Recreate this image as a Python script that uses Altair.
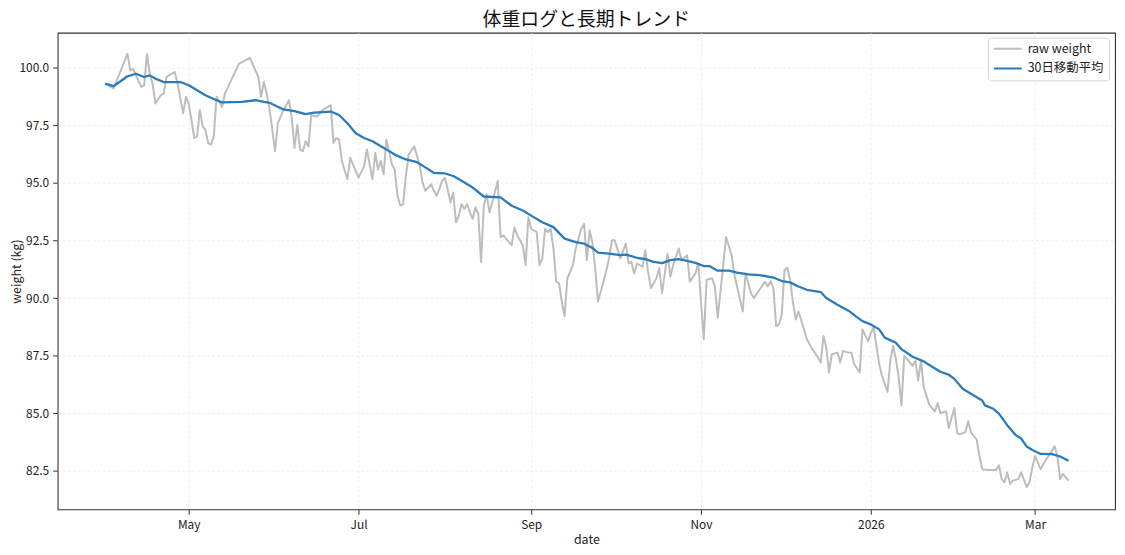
import altair as alt
import pandas as pd

START = "2025-04-01"

raw_day = [0, 3, 8, 9, 10, 11, 13, 14, 15, 16, 17, 18, 20, 21, 22, 25, 26, 28, 29, 30,
           32, 33, 34, 35, 36, 37, 38, 39, 40, 42, 43, 48, 52, 55, 56, 57, 58, 59, 61, 62,
           63, 64, 66, 67, 68, 69, 70, 71, 72, 73, 74, 76, 78, 81, 82, 83, 84, 85, 87, 88,
           90, 91, 93, 94, 96, 97, 98, 99, 100, 101, 103, 104, 105, 106, 107, 108, 109, 111, 113, 114,
           115, 117, 119, 120, 121, 122, 123, 124, 125, 126, 127, 128, 129, 130, 131, 132, 133, 134, 135, 136,
           137, 138, 139, 141, 142, 143, 144, 146, 147, 148, 150, 151, 152, 153, 155, 156, 157, 158, 159, 160,
           161, 162, 163, 164, 165, 166, 168, 169, 171, 172, 173, 174, 175, 176, 177, 179, 181, 182, 183, 185,
           187, 188, 189, 190, 191, 193, 194, 195, 196, 198, 199, 200, 202, 203, 204, 206, 207, 209, 210, 212,
           213, 215, 216, 218, 219, 220, 222, 223, 225, 226, 229, 230, 232, 233, 235, 237, 238, 239, 240, 241,
           242, 243, 244, 245, 246, 247, 248, 249, 251, 252, 254, 256, 257, 258, 259, 260, 261, 263, 264, 265,
           267, 268, 269, 271, 272, 274, 275, 276, 278, 279, 281, 282, 283, 284, 285, 286, 287, 288, 290, 291,
           292, 293, 294, 296, 297, 298, 299, 300, 302, 303, 305, 306, 307, 309, 310, 311, 313, 314, 315, 317,
           320, 321, 322, 323, 324, 325, 326, 328, 329, 331, 332, 333, 334, 336, 337, 338, 340, 341, 342, 343,
           344, 346]
raw_kg = [99.31, 99.1, 100.6, 99.88, 99.96, 99.67, 99.17, 99.24, 100.6, 99.74, 99.31, 98.45, 98.81, 98.88, 99.6, 99.82, 99.31, 98.02, 98.74, 98.45,
          96.95, 97.02, 98.16, 97.45, 97.31, 96.73, 96.66, 97.02, 98.74, 98.31, 98.88, 100.17, 100.43, 99.6, 98.74, 99.38, 98.88, 98.24, 96.38, 97.59,
          97.88, 98.16, 98.59, 97.81, 96.52, 97.52, 96.45, 96.38, 96.81, 96.59, 97.95, 97.88, 98.16, 98.38, 96.73, 96.95, 96.88, 95.95, 95.16, 96.09,
          95.52, 95.23, 95.73, 96.45, 95.16, 96.3, 95.58, 95.95, 95.37, 96.88, 95.8, 95.58, 94.44, 94.01, 94.08, 95.3, 96.23, 96.59, 95.73, 95.01,
          94.66, 94.94, 94.44, 94.73, 95.09, 95.23, 94.73, 94.15, 94.58, 93.29, 93.58, 94.08, 93.87, 94.08, 93.72, 93.44, 93.94, 93.65, 91.57, 94.01,
          94.51, 93.72, 94.15, 95.09, 92.65, 92.72, 92.58, 92.29, 93.08, 92.72, 92.29, 91.43, 93.51, 93.01, 92.86, 91.43, 91.72, 93.01, 92.86, 93.01,
          92.15, 90.71, 90.64, 89.85, 89.21, 90.86, 91.43, 92.15, 93.01, 93.22, 91.65, 92.94, 92.4, 91.3, 89.85, 90.71, 91.72, 92.51, 92.51, 91.72,
          92.36, 91.5, 91.57, 91.07, 91.5, 91.36, 92.08, 91.14, 90.43, 90.86, 91.29, 90.21, 91.93, 90.93, 91.43, 92.15, 91.65, 91.86, 90.71, 91.07,
          91.5, 88.21, 90.79, 90.86, 90.5, 89.14, 91.43, 92.65, 91.86, 91.0, 89.42, 91.07, 90.2, 90.0, 90.36, 90.71, 90.5, 90.74, 90.43, 88.78,
          88.85, 89.28, 91.22, 91.32, 90.79, 89.85, 89.06, 89.42, 88.64, 88.21, 87.78, 87.42, 87.2, 88.35, 87.85, 86.77, 87.56, 87.63, 87.2, 87.7,
          87.63, 87.63, 87.13, 86.77, 88.64, 88.13, 88.49, 88.74, 87.13, 86.63, 85.92, 87.27, 87.92, 87.35, 86.56, 85.34, 87.49, 87.35, 87.06, 87.27,
          86.41, 87.27, 86.13, 85.37, 85.22, 85.08, 85.44, 85.01, 85.08, 84.36, 85.22, 84.15, 84.08, 84.18, 84.65, 84.15, 83.86, 83.14, 82.57, 82.53,
          82.53, 82.74, 82.14, 82.0, 82.43, 81.93, 82.07, 82.14, 82.43, 81.79, 82.0, 82.65, 83.14, 82.57, 82.79, 83.0, 83.36, 83.57, 83.14, 82.14,
          82.36, 82.07]

ma_day = [0, 3, 8, 11, 14, 16, 18, 21, 27, 30, 33, 36, 40, 42, 49, 54, 57, 59, 62, 64,
          68, 72, 75, 81, 84, 87, 90, 93, 96, 99, 102, 104, 108, 112, 114, 118, 122, 125, 128, 132,
          136, 142, 146, 150, 153, 157, 161, 165, 169, 172, 175, 177, 181, 185, 187, 191, 194, 197, 200, 203,
          206, 209, 212, 215, 217, 220, 224, 227, 231, 235, 240, 243, 246, 249, 252, 257, 259, 263, 267, 270,
          272, 275, 278, 280, 284, 286, 290, 294, 297, 300, 303, 305, 308, 312, 315, 316, 319, 321, 324, 327,
          329, 331, 333, 336, 340, 343, 346]
ma_kg = [99.31, 99.2, 99.63, 99.74, 99.6, 99.67, 99.53, 99.38, 99.38, 99.24, 99.02, 98.81, 98.59, 98.5, 98.52, 98.59, 98.52, 98.48, 98.31, 98.19,
         98.12, 97.99, 98.05, 98.1, 97.95, 97.59, 97.16, 96.95, 96.81, 96.59, 96.38, 96.23, 96.02, 95.9, 95.75, 95.44, 95.41, 95.3, 95.09, 94.8,
         94.41, 94.37, 94.01, 93.8, 93.58, 93.29, 93.08, 92.58, 92.43, 92.36, 92.18, 91.97, 91.93, 91.86, 91.89, 91.75, 91.69, 91.57, 91.52, 91.65,
         91.69, 91.61, 91.53, 91.39, 91.39, 91.19, 91.19, 91.1, 91.03, 91.0, 90.89, 90.74, 90.68, 90.5, 90.36, 90.26, 90.0, 89.71, 89.45, 89.17,
         89.0, 88.85, 88.64, 88.28, 88.06, 87.78, 87.45, 87.25, 87.02, 86.8, 86.67, 86.49, 86.06, 85.77, 85.55, 85.34, 85.19, 84.98, 84.48, 84.05,
         83.9, 83.55, 83.4, 83.23, 83.22, 83.12, 82.93]

series_names = ["raw weight", "30日移動平均"]
series_colors = ["#bdbdbd", "#2b7bba"]
y_ticks = [82.5, 85.0, 87.5, 90.0, 92.5, 95.0, 97.5, 100.0]

FONT = "Noto Sans CJK JP"

start = pd.Timestamp(START)
raw_df = pd.DataFrame({
    "date": start + pd.to_timedelta(raw_day, unit="D"),
    "kg": raw_kg,
    "series": series_names[0],
})
ma_df = pd.DataFrame({
    "date": start + pd.to_timedelta(ma_day, unit="D"),
    "kg": ma_kg,
    "series": series_names[1],
})

x_ticks = [
    alt.DateTime(year=2025, month=5, date=1),
    alt.DateTime(year=2025, month=7, date=1),
    alt.DateTime(year=2025, month=9, date=1),
    alt.DateTime(year=2025, month=11, date=1),
    alt.DateTime(year=2026, month=1, date=1),
    alt.DateTime(year=2026, month=3, date=1),
]

PLOT_W = 1065
PLOT_H = 480

x_enc = alt.X(
    "date:T",
    scale=alt.Scale(domain=[alt.DateTime(year=2025, month=3, date=14, hours=22),
                            alt.DateTime(year=2026, month=3, date=29, hours=17)]),
    axis=alt.Axis(
        values=x_ticks,
        labelExpr="month(datum.value) == 0 ? timeFormat(datum.value, '%Y') : timeFormat(datum.value, '%b')",
        title="date",
        labelPadding=5,
        titlePadding=3,
    ),
)
y_enc = alt.Y(
    "kg:Q",
    scale=alt.Scale(domain=[80.825, 101.52], nice=False, zero=False),
    axis=alt.Axis(values=y_ticks, format=".1f", title="weight (kg)",
                  labelPadding=4, titleX=-41, titleY=PLOT_H / 2,
                  titleBaseline="middle", titleAlign="center", titleAngle=270),
)
color_enc = alt.Color(
    "series:N",
    scale=alt.Scale(domain=series_names, range=series_colors),
    legend=alt.Legend(
        title=None,
        orient="none",
        legendX=937,
        legendY=5,
        symbolType="stroke",
        symbolSize=784,
        symbolStrokeWidth=2,
        clipHeight=12,
        labelFontSize=12.5,
        labelFont=FONT,
        labelColor="#222222",
        labelOffset=5,
        rowPadding=7,
        padding=5,
        fillColor="white",
        strokeColor="#d4d4d4",
        cornerRadius=3,
    ),
)

raw_line = alt.Chart(raw_df).mark_line(strokeWidth=2, strokeJoin="round").encode(
    x=x_enc, y=y_enc, color=color_enc
)
ma_line = alt.Chart(ma_df).mark_line(strokeWidth=2.3, strokeJoin="round").encode(
    x=x_enc, y=y_enc, color=color_enc
)

chart = (
    alt.layer(raw_line, ma_line)
    .properties(
        width=PLOT_W,
        height=PLOT_H,
        title=alt.TitleParams(
            "体重ログと長期トレンド",
            fontSize=19,
            font=FONT,
            fontWeight="normal",
            color="#111111",
            anchor="middle",
            offset=3,
        ),
        padding={"left": 50, "top": 23, "right": 2, "bottom": 38},
        autosize=alt.AutoSizeParams(type="none"),
    )
    .configure_view(stroke="#333333", strokeWidth=1.1)
    .configure_axis(
        domain=False,
        tickColor="#333333",
        tickSize=5,
        tickWidth=1,
        labelFont=FONT,
        labelFontSize=12,
        labelColor="#222222",
        titleFont=FONT,
        titleFontSize=12.5,
        titleFontWeight="normal",
        titleColor="#222222",
        grid=True,
        gridColor="#ebebeb",
        gridDash=[3, 2],
        gridWidth=0.8,
    )
)

chart.save("out.html", embed_options={"renderer": "svg", "actions": False})
